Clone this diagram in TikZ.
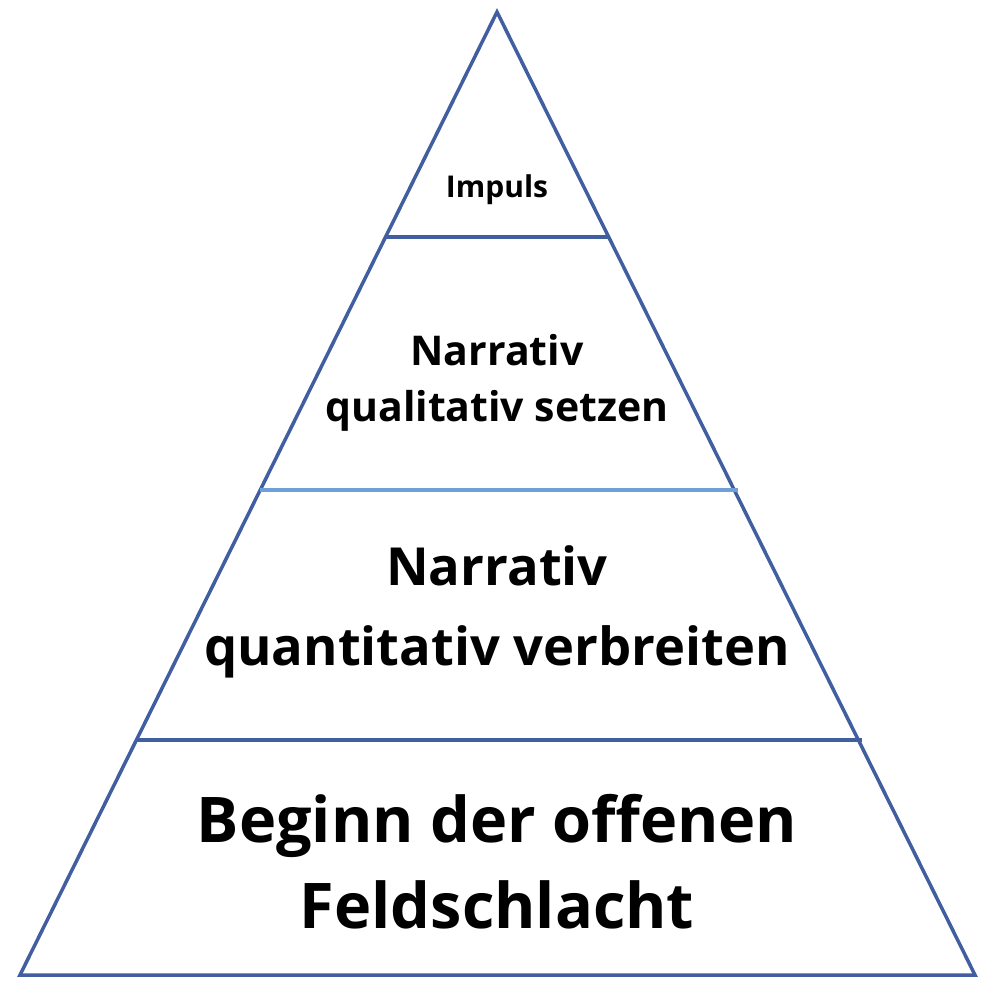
\documentclass[tikz,border=0pt]{standalone}
\usepackage{fontspec}
\setmainfont{Open Sans}
\definecolor{pyr}{RGB}{65,95,160}
\definecolor{pyrl}{RGB}{110,160,215}
\begin{document}
\begin{tikzpicture}[x=1pt,y=-1pt,
  edge/.style={draw=pyr,line width=3.5pt},
  lab/.style={align=center,font=\bfseries,inner sep=0pt}]
\useasboundingbox (0,0) rectangle (1000,1000);
\coordinate (T) at (497,12);
\coordinate (L) at (20,975);
\coordinate (R) at (975,975);
\draw[edge,line join=miter] (T) -- (R) -- (L) -- cycle;
\coordinate (a1) at (386,237); \coordinate (a2) at (608,237);
\coordinate (b1) at (260,490); \coordinate (b2) at (738,490);
\coordinate (c1) at (136,740); \coordinate (c2) at (862,740);
\draw[edge] (a1) -- (a2);
\draw[edge,draw=pyrl] (b1) -- (b2);
\draw[edge] (c1) -- (c2);
\node[lab,font=\bfseries\fontsize{30}{34}\selectfont] (t1) at (497,190) {Impuls};
\node[lab,font=\bfseries\fontsize{41}{56}\selectfont] (t2) at (497,383) {Narrativ\\qualitativ setzen};
\node[lab,font=\bfseries\fontsize{52.5}{80}\selectfont] (t3) at (497,612) {Narrativ\\quantitativ verbreiten};
\node[lab,font=\bfseries\fontsize{63}{86}\selectfont] (t4) at (497,862) {Beginn der offenen\\Feldschlacht};
\end{tikzpicture}
\end{document}
